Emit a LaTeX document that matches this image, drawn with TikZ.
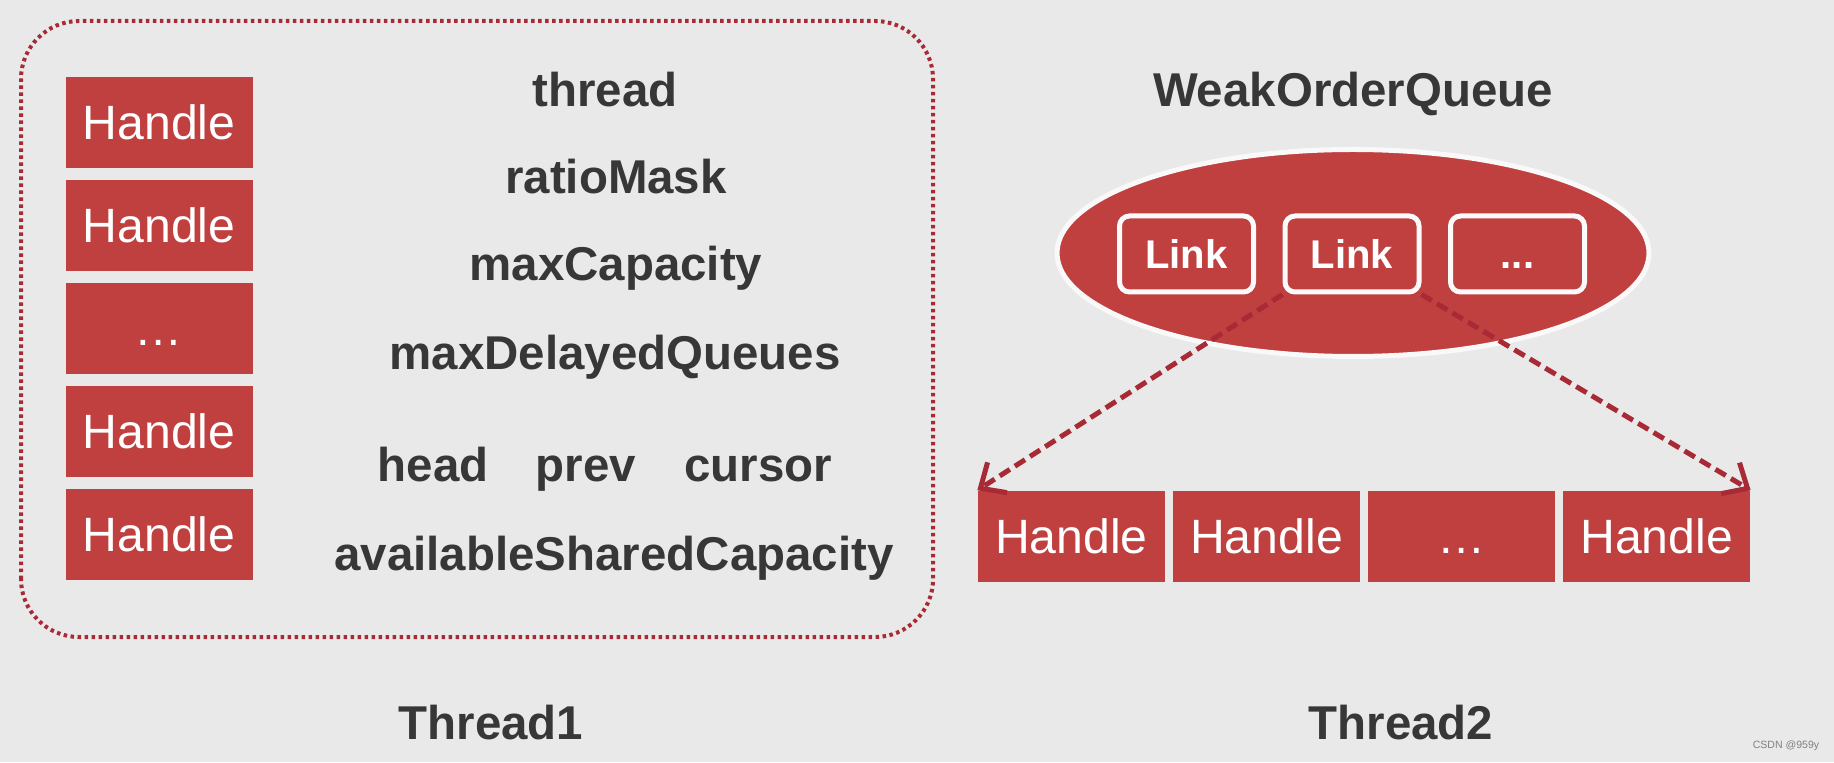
\documentclass[tikz,border=0pt]{standalone}
\usepackage{fontspec}
\setmainfont{Liberation Sans}
\usetikzlibrary{arrows.meta,shapes.geometric}

\definecolor{boxred}{RGB}{192,64,64}
\definecolor{framered}{RGB}{168,42,52}
\definecolor{bggray}{RGB}{233,233,233}
\definecolor{txtgray}{RGB}{55,55,55}

\newcommand{\linkdots}{...}

\begin{document}
\begin{tikzpicture}[
	handle/.style={fill=boxred, minimum width=1.87cm, minimum height=0.91cm, inner sep=0pt, text=white, text height=0.34cm, text depth=0cm, font=\fontsize{13.7}{16}\selectfont},
	field/.style={text=txtgray, inner sep=0pt, text height=0.34cm, text depth=0cm, font=\fontsize{13.5}{16}\selectfont\bfseries},
	link/.style={fill=boxred, draw=white!96!gray, line width=0.05cm, rounded corners=0.1cm, minimum width=1.34cm, minimum height=0.76cm, inner sep=0pt, text=white, text height=0.29cm, text depth=0cm, font=\fontsize{11.4}{14}\selectfont\bfseries},
	link arrow/.style={draw=framered, line width=0.05cm, dash pattern=on 0.12cm off 0.06cm, -{Straight Barb[length=0.2cm, width=0.36cm]}}
]


\fill[bggray] (0,0) rectangle (18.34,7.62);
\useasboundingbox (0,0) rectangle (18.34,7.62);


\draw[framered, line width=0.04cm, dash pattern=on 0.035cm off 0.035cm, rounded corners=0.58cm] (0.21,1.25) rectangle (9.33,7.41);


\foreach \z/\t in {1/Handle, 2/Handle, 3/…, 4/Handle, 5/Handle}
{
	\node[handle] (lh\z) at (1.59, 7.425 - \z*1.03) {\t};
}


\node[field] (thread) at (6.05, 6.72) {thread};
\node[field] (ratio) at (6.16, 5.85) {ratioMask};
\node[field] (maxcap) at (6.16, 4.98) {maxCapacity};
\node[field] (maxdq) at (6.15, 4.09) {maxDelayedQueues};
\node[field] (head) at (4.33, 2.98) {head};
\node[field] (prev) at (5.86, 2.98) {prev};
\node[field] (cursor) at (7.58, 2.98) {cursor};
\node[field] (avail) at (6.14, 2.09) {availableSharedCapacity};

\node[field] (t1) at (4.91, 0.40) {Thread1};




\node[field] (wq title) at (13.53, 6.72) {WeakOrderQueue};

\node[ellipse, fill=boxred, draw=white!95!gray, line width=0.05cm, minimum width=5.92cm, minimum height=2.07cm] (wq) at (13.53, 5.09) {};

\foreach \z/\t in {1/Link, 2/Link, 3/\linkdots}
{
	\node[link] (ln\z) at (10.21 + \z*1.655, 5.08) {\t};
}


\foreach \z/\t in {1/Handle, 2/Handle, 3/…, 4/Handle}
{
	\node[handle] (bh\z) at (8.765 + \z*1.95, 2.255) {\t};
}


\draw[link arrow] (ln2.south west) -- (bh1.north west);
\draw[link arrow] (ln2.south east) -- (bh4.north east);

\node[field] (t2) at (14.01, 0.40) {Thread2};


\node[text=gray, inner sep=0pt, font=\fontsize{3}{4}\selectfont] (mark) at (17.86, 0.16) {CSDN @959y};

\end{tikzpicture}
\end{document}
